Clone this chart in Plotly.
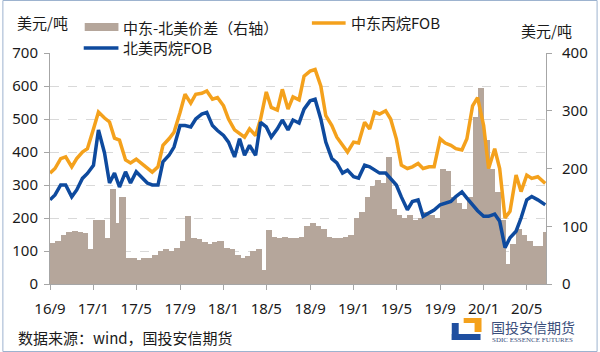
import plotly.graph_objects as go

# ---------------- data ----------------
dates = [
    "2016-09-01", "2016-09-15", "2016-10-01", "2016-10-15", "2016-11-01", "2016-11-15",
    "2016-12-01", "2016-12-15", "2017-01-01", "2017-01-15", "2017-02-01", "2017-02-15",
    "2017-03-01", "2017-03-15", "2017-04-01", "2017-04-15", "2017-05-01", "2017-05-15",
    "2017-06-01", "2017-06-15", "2017-07-01", "2017-07-15", "2017-08-01", "2017-08-15",
    "2017-09-01", "2017-09-15", "2017-10-01", "2017-10-15", "2017-11-01", "2017-11-15",
    "2017-12-01", "2017-12-15", "2018-01-01", "2018-01-15", "2018-02-01", "2018-02-15",
    "2018-03-01", "2018-03-15", "2018-04-01", "2018-04-15", "2018-05-01", "2018-05-15",
    "2018-06-01", "2018-06-15", "2018-07-01", "2018-07-15", "2018-08-01", "2018-08-15",
    "2018-09-01", "2018-09-15", "2018-10-01", "2018-10-15", "2018-11-01", "2018-11-15",
    "2018-12-01", "2018-12-15", "2019-01-01", "2019-01-15", "2019-02-01", "2019-02-15",
    "2019-03-01", "2019-03-15", "2019-04-01", "2019-04-15", "2019-05-01", "2019-05-15",
    "2019-06-01", "2019-06-15", "2019-07-01", "2019-07-15", "2019-08-01", "2019-08-15",
    "2019-09-01", "2019-09-15", "2019-10-01", "2019-10-15", "2019-11-01", "2019-11-15",
    "2019-12-01", "2019-12-15", "2020-01-01", "2020-01-15", "2020-02-01", "2020-02-15",
    "2020-03-01", "2020-03-15", "2020-04-01", "2020-04-15", "2020-05-01", "2020-05-15",
    "2020-06-01", "2020-06-15", "2020-06-22",
]

me_fob = [  # 中东丙烷FOB (left axis)
    336, 350, 380, 385, 355, 380, 400, 410, 470, 521, 503, 491,
    442, 436, 376, 367, 378, 365, 350, 339, 355, 420, 440, 460,
    520, 575, 548, 575, 578, 585, 560, 565, 540, 500, 467, 455,
    445, 470, 450, 500, 582, 535, 527, 590, 530, 567, 558, 630,
    645, 650, 600, 510, 480, 445, 420, 400, 430, 427, 490, 470,
    521, 515, 525, 500, 440, 360, 350, 355, 365, 350, 355, 355,
    440, 427, 420, 410, 406, 440, 540, 565, 480, 350, 410, 350,
    200, 220, 330, 280, 330, 320, 325, 310, 305,
]

na_fob = [  # 北美丙烷FOB (left axis)
    255, 270, 300, 300, 264, 285, 320, 335, 360, 467, 397, 306,
    336, 294, 340, 306, 340, 325, 306, 300, 300, 370, 390, 415,
    480, 480, 476, 500, 515, 520, 480, 465, 450, 430, 385, 440,
    390, 420, 390, 490, 476, 445, 470, 497, 467, 497, 488, 530,
    555, 560, 500, 430, 380, 367, 336, 345, 325, 321, 360, 355,
    345, 336, 336, 320, 300, 264, 225, 250, 255, 205, 215, 224,
    240, 245, 250, 265, 279, 260, 240, 222, 205, 205, 212, 190,
    110, 140, 160, 200, 255, 265, 255, 245, 240,
]

spread = [  # 中东-北美价差 (right axis)
    71, 75, 85, 90, 92, 90, 88, 60, 110, 110, 80, 165,
    105, 150, 45, 45, 42, 45, 45, 50, 58, 60, 58, 62,
    75, 118, 80, 78, 72, 70, 72, 75, 62, 60, 50, 45,
    48, 58, 60, 25, 94, 82, 80, 82, 80, 80, 82, 100,
    105, 100, 95, 82, 80, 80, 82, 85, 115, 125, 150, 170,
    180, 175, 220, 130, 120, 115, 120, 110, 115, 125, 120, 115,
    200, 195, 150, 140, 130, 150, 290, 340, 250, 200, 160, 110,
    35, 70, 95, 85, 75, 65, 65, 90, 80,
]

x_tickvals = ["2016-09-01", "2017-01-01", "2017-05-01", "2017-09-01", "2018-01-01",
              "2018-05-01", "2018-09-01", "2019-01-01", "2019-05-01", "2019-09-01",
              "2020-01-01", "2020-05-01"]
x_ticktext = ["16/9", "17/1", "17/5", "17/9", "18/1", "18/5", "18/9",
              "19/1", "19/5", "19/9", "20/1", "20/5"]

name_spread = "中东-北美价差（右轴）"
name_me = "中东丙烷FOB"
name_na = "北美丙烷FOB"

# ---------------- style ----------------
C_BAR = "#B5A69B"
C_ORANGE = "#F4A11C"
C_BLUE = "#0E4A9E"
C_AXIS = "#A6A6A6"
C_TEXT = "#1A1A1A"
FONT = "Noto Sans CJK SC, Noto Sans, sans-serif"
TICKFONT = dict(family="Noto Sans, sans-serif", size=15, color=C_TEXT)

ML, MR, MT, MB = 48, 52, 53, 68
W, H = 600, 352
PW, PH = W - ML - MR, H - MT - MB
DAY_MS = 86400000


def px(x):
    return (x - ML) / PW


def py(y):
    return (H - MB - y) / PH


fig = go.Figure()

fig.add_trace(go.Bar(x=dates, y=spread, name=name_spread, marker_color=C_BAR,
                     marker_line_width=0, width=17 * DAY_MS, offset=0,
                     yaxis="y", showlegend=False))
fig.add_trace(go.Scatter(x=dates, y=me_fob, name=name_me, mode="lines",
                         line=dict(color=C_ORANGE, width=3.5), yaxis="y2", showlegend=False))
fig.add_trace(go.Scatter(x=dates, y=na_fob, name=name_na, mode="lines",
                         line=dict(color=C_BLUE, width=3.5), yaxis="y2", showlegend=False))

fig.update_layout(
    width=W, height=H,
    margin=dict(l=ML, r=MR, t=MT, b=MB),
    paper_bgcolor="white", plot_bgcolor="white",
    bargap=0,
    font=dict(family=FONT, size=15, color=C_TEXT),
    xaxis=dict(type="date", range=["2016-09-01", "2020-06-24"],
               tickvals=x_tickvals, ticktext=x_ticktext,
               showline=True, linecolor=C_AXIS, linewidth=1,
               ticks="outside", ticklen=5, tickcolor=C_AXIS,
               ticklabelstandoff=6,
               showgrid=False, zeroline=False, tickfont=TICKFONT),
    yaxis=dict(side="right", range=[0, 400], dtick=100,
               showline=True, linecolor=C_AXIS, linewidth=1,
               ticks="outside", ticklen=5, tickcolor=C_AXIS,
               ticklabelstandoff=7,
               showgrid=False, zeroline=False, tickfont=TICKFONT),
    yaxis2=dict(side="left", overlaying="y", range=[0, 700], dtick=100,
                showline=True, linecolor=C_AXIS, linewidth=1,
                ticks="outside", ticklen=5, tickcolor=C_AXIS,
                ticklabelstandoff=3,
                showgrid=True, gridcolor="#D9D9D9", griddash="dash", gridwidth=1,
                zeroline=False, tickfont=TICKFONT),
)

shapes = []
annotations = []

# outer border
shapes.append(dict(type="rect", xref="paper", yref="paper",
                   x0=px(0.5), x1=px(599.5), y0=py(351.5), y1=py(0.5),
                   line=dict(color="#9DB3CF", width=1), fillcolor="rgba(0,0,0,0)", layer="above"))

# legend (manual)
shapes.append(dict(type="rect", xref="paper", yref="paper",
                   x0=px(83), x1=px(117), y0=py(31), y1=py(23),
                   line=dict(width=0), fillcolor=C_BAR))
annotations.append(dict(xref="paper", yref="paper", x=px(120), y=py(27), text=name_spread,
                        showarrow=False, xanchor="left", yanchor="middle",
                        font=dict(size=15, color=C_TEXT)))
shapes.append(dict(type="line", xref="paper", yref="paper",
                   x0=px(312), x1=px(346), y0=py(23), y1=py(23),
                   line=dict(color=C_ORANGE, width=3.5)))
annotations.append(dict(xref="paper", yref="paper", x=px(349), y=py(23), text=name_me,
                        showarrow=False, xanchor="left", yanchor="middle",
                        font=dict(size=15, color=C_TEXT)))
shapes.append(dict(type="line", xref="paper", yref="paper",
                   x0=px(82), x1=px(117), y0=py(48), y1=py(48),
                   line=dict(color=C_BLUE, width=3.5)))
annotations.append(dict(xref="paper", yref="paper", x=px(120), y=py(47), text=name_na,
                        showarrow=False, xanchor="left", yanchor="middle",
                        font=dict(size=15, color=C_TEXT)))

# axis titles
annotations.append(dict(xref="paper", yref="paper", x=px(40), y=py(22), text="美元/吨",
                        showarrow=False, xanchor="center", yanchor="middle",
                        font=dict(size=15, color=C_TEXT)))
annotations.append(dict(xref="paper", yref="paper", x=px(549), y=py(31), text="美元/吨",
                        showarrow=False, xanchor="center", yanchor="middle",
                        font=dict(size=15, color=C_TEXT)))

# source
annotations.append(dict(xref="paper", yref="paper", x=px(14), y=py(337),
                        text="数据来源：wind，国投安信期货",
                        showarrow=False, xanchor="left", yanchor="middle",
                        font=dict(size=15, color=C_TEXT)))

# logo
LB = "#1F4FA0"
LO = "#F4A11C"
shapes.append(dict(type="rect", xref="paper", yref="paper", x0=px(465), x1=px(483),
                   y0=py(332), y1=py(318), line=dict(width=0), fillcolor=LO))
shapes.append(dict(type="rect", xref="paper", yref="paper", x0=px(460), x1=px(476),
                   y0=py(334), y1=py(323), line=dict(width=0), fillcolor="white"))
shapes.append(dict(type="rect", xref="paper", yref="paper", x0=px(453), x1=px(460),
                   y0=py(340), y1=py(323), line=dict(width=0), fillcolor=LB))
shapes.append(dict(type="rect", xref="paper", yref="paper", x0=px(453), x1=px(482),
                   y0=py(340), y1=py(334), line=dict(width=0), fillcolor=LB))
annotations.append(dict(xref="paper", yref="paper", x=px(491), y=py(327), text="国投安信期货",
                        showarrow=False, xanchor="left", yanchor="middle",
                        font=dict(size=14, color="#3B4F7C")))
annotations.append(dict(xref="paper", yref="paper", x=px(492), y=py(339.5),
                        text="SDIC ESSENCE FUTURES",
                        showarrow=False, xanchor="left", yanchor="middle",
                        font=dict(family="Liberation Serif, serif", size=7, color="#3B4F7C")))

fig.update_layout(shapes=shapes, annotations=annotations)

fig.write_html("out.html")
